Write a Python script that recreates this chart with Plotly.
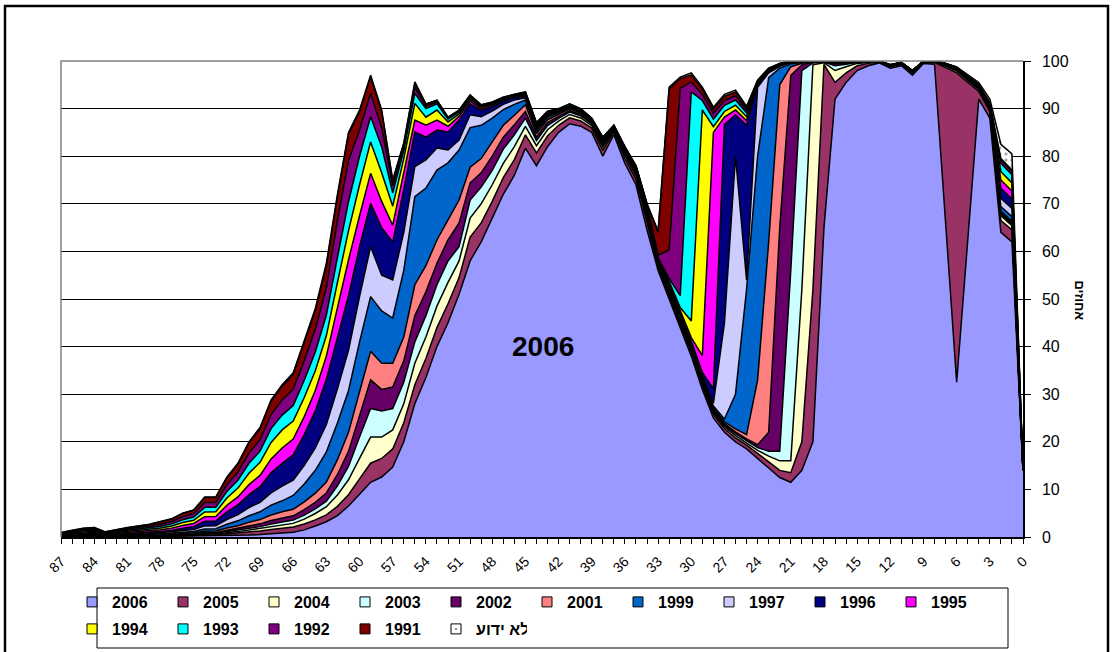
import plotly.graph_objects as go

# categories (shown right-to-left from 87 down to 0)
categories = list(range(87, -1, -1))

# values, one value per category (87 ... 0)
s2006 = [0.03, 0.04, 0.05, 0.06, 0.03, 0.05, 0.06, 0.07, 0.08, 0.1,
 0.11, 0.15, 0.2, 0.2, 0.25, 0.3, 0.35, 0.4, 0.5, 0.6, 0.8, 1.0, 1.5, 2.3, 3.2, 4.5, 6.5, 9, 11.5, 12.6, 14.7, 20,
 28, 33.5, 40, 45, 51, 58, 62, 67, 72, 76, 81.7,
 78, 82, 85, 86.8, 86.3, 85, 80, 84.5, 78.5, 74, 64.5,
 56, 50, 44, 38, 31, 25, 22, 20, 18.5, 16.5, 14.5, 12.5, 11.5, 14, 20, 65,
 92, 95.5, 98, 99, 99.6, 98.5, 99, 97, 99.5, 99.3, 66, 32.5, 62, 92, 88, 64, 62, 14]

s2005 = [0.02, 0.03, 0.04, 0.04, 0.02, 0.03, 0.04, 0.05, 0.05, 0.06,
 0.08, 0.1, 0.12, 0.21, 0.2, 0.35, 0.47, 0.64, 0.76, 0.98, 1.1, 1.1, 1.23, 1.3, 1.44, 1.94, 2.38, 3.2, 4, 3.9, 3.8, 4,
 4, 4, 4, 4, 3.5, 5, 4, 3.5, 3.5, 3.3, 2.8,
 2.7, 2.25, 1.5, 1.26, 1.1, 0.9, 1.2, 0.6, 1.05, 1.2, 1.65,
 0.6, 0.8, 0.8, 0.8, 0.8, 0.8, 0.8, 0.8, 0.8, 1.0, 1.3, 1.5, 2.0, 6, 32, 34.3,
 3.5, 2.0, 1.0, 0.5, 0.2, 0.3, 0.3, 0.4, 0.25, 0.35, 32.6, 65, 33.5, 1.6, 1.4, 2.5, 2.5, 0.01]

s2004 = [0.02, 0.03, 0.04, 0.04, 0.02, 0.03, 0.04, 0.05, 0.05, 0.06,
 0.08, 0.1, 0.11, 0.17, 0.17, 0.25, 0.31, 0.4, 0.46, 0.58, 0.6, 0.76, 1.03, 1.34, 1.73, 2.38, 3.15, 4.3, 5.5, 4.5, 4.0, 4,
 4.5, 4.5, 4.5, 4.5, 3.5, 4, 4, 3.5, 3, 2.7, 1.75,
 1.5, 1.3, 0.85, 0.71, 0.63, 0.5, 0.68, 0.34, 0.6, 0.68, 0.94,
 0.35, 0.4, 0.4, 0.4, 0.4, 0.4, 0.4, 0.5, 0.5, 0.7, 1.2, 2.0, 2.5, 32, 47.2, 0.35,
 2.5, 1.3, 0.5, 0.25, 0.1, 0.15, 0.15, 0.2, 0.1, 0.12, 0.3, 0.4, 0.45, 0.35, 0.3, 1.0, 0.9, 0.01]

s2003 = [0.02, 0.03, 0.04, 0.04, 0.02, 0.03, 0.04, 0.05, 0.05, 0.06,
 0.08, 0.1, 0.11, 0.17, 0.17, 0.25, 0.31, 0.4, 0.46, 0.58, 0.7, 0.69, 0.82, 0.96, 1.15, 1.94, 2.8, 4.5, 6, 5.5, 4.5, 4.5,
 4.5, 4.5, 4.5, 4.5, 3, 3.8, 3.5, 3, 3, 2.5, 1.75,
 1.1, 0.9, 0.6, 0.5, 0.44, 0.36, 0.48, 0.24, 0.42, 0.48, 0.66,
 0.25, 0.3, 0.3, 0.3, 0.3, 0.3, 0.3, 0.4, 0.4, 0.6, 1.0, 2.0, 40, 46, 0.4, 0.15,
 1.0, 0.5, 0.2, 0.1, 0.04, 0.08, 0.08, 0.12, 0.05, 0.06, 0.15, 0.2, 0.25, 0.2, 0.1, 0.3, 0.3, 0.01]

s2002 = [0.02, 0.03, 0.04, 0.04, 0.02, 0.03, 0.04, 0.05, 0.05, 0.06,
 0.08, 0.1, 0.12, 0.18, 0.18, 0.29, 0.37, 0.5, 0.58, 0.72, 0.8, 0.9, 1.15, 1.39, 1.73, 2.38, 3.15, 4.5, 6, 4.5, 4.5, 4.5,
 5.5, 5, 4.5, 4.4, 5, 3.6, 3, 3, 2.5, 2.1, 1.4,
 0.7, 0.6, 0.4, 0.34, 0.3, 0.24, 0.32, 0.16, 0.28, 0.32, 0.44,
 0.2, 0.3, 0.3, 0.3, 0.3, 0.3, 0.3, 0.4, 0.4, 0.6, 4.0, 47, 41, 1.2, 0.15, 0.06,
 0.4, 0.3, 0.1, 0.05, 0.02, 0.04, 0.04, 0.06, 0.03, 0.04, 0.1, 0.12, 0.15, 0.12, 0.1, 0.3, 0.3, 0.01]

s2001 = [0.03, 0.04, 0.05, 0.06, 0.03, 0.05, 0.06, 0.07, 0.08, 0.1,
 0.11, 0.16, 0.18, 0.28, 0.28, 0.44, 0.57, 0.76, 0.9, 1.15, 1.3, 1.38, 1.64, 1.92, 2.3, 3.1, 4.0, 5.0, 6, 5.5, 5.0, 5,
 6.5, 5.5, 4.9, 4.2, 4.8, 3.3, 3, 3, 2.5, 2.0, 1.4,
 0.7, 0.6, 0.4, 0.34, 0.3, 0.24, 0.32, 0.16, 0.28, 0.32, 0.44,
 0.2, 0.3, 0.3, 0.3, 0.3, 0.3, 0.4, 0.6, 0.9, 13.6, 40, 30, 1.8, 0.3, 0.07, 0.04,
 0.2, 0.15, 0.06, 0.03, 0.01, 0.03, 0.03, 0.05, 0.02, 0.03, 0.08, 0.1, 0.12, 0.1, 0.1, 0.3, 0.3, 0.01]

s1999 = [0.05, 0.07, 0.09, 0.1, 0.06, 0.08, 0.1, 0.12, 0.14, 0.16,
 0.19, 0.26, 0.3, 0.48, 0.48, 0.79, 1.02, 1.36, 1.63, 2.1, 2.3, 2.9, 3.77, 4.8, 6.33, 7.7, 8.76, 10.5, 11.5, 11, 9.5, 14,
 18.5, 16.3, 14.7, 12, 10.5, 8.3, 7, 5, 3.3, 2.3, 1.0,
 0.6, 0.5, 0.35, 0.29, 0.26, 0.21, 0.28, 0.14, 0.25, 0.28, 0.39,
 0.2, 0.3, 0.3, 0.3, 0.3, 0.4, 0.6, 7.3, 30.5, 47, 34.5, 3.5, 0.6, 0.2, 0.05, 0.03,
 0.12, 0.07, 0.04, 0.02, 0.01, 0.03, 0.03, 0.05, 0.02, 0.03, 0.08, 0.1, 0.12, 0.12, 0.15, 1.0, 1.0, 0.01]

s1997 = [0.06, 0.1, 0.13, 0.14, 0.08, 0.1, 0.14, 0.16, 0.19, 0.22,
 0.27, 0.36, 0.42, 0.64, 0.64, 1.01, 1.29, 1.7, 2.0, 2.56, 3.1, 3.21, 3.9, 4.7, 5.75, 7.2, 8.5, 9.5, 10.5, 7.5, 8.0, 8,
 6.3, 5.9, 4.6, 2.7, 2.1, 2.7, 1.8, 1.5, 1.1, 0.9, 0.5,
 0.4, 0.3, 0.2, 0.17, 0.15, 0.12, 0.16, 0.08, 0.14, 0.16, 0.22,
 0.15, 0.3, 0.3, 0.3, 0.4, 0.6, 20.2, 50, 2, 14.5, 1.0, 0.4, 0.2, 0.08, 0.03, 0.02,
 0.08, 0.05, 0.02, 0.01, 0.005, 0.02, 0.02, 0.03, 0.01, 0.02, 0.05, 0.06, 0.1, 0.12, 0.2, 1.75, 1.7, 0.01]

s1996 = [0.09, 0.14, 0.18, 0.2, 0.11, 0.15, 0.2, 0.23, 0.27, 0.32,
 0.38, 0.52, 0.62, 0.97, 0.97, 1.6, 2.06, 2.76, 3.29, 4.23, 4.8, 5.31, 6.48, 7.78, 9.49, 10.8, 11.48, 10.5, 9.1, 10, 8.0, 9,
 7.3, 4.8, 3.8, 3.8, 4.2, 2.3, 1.3, 0.9, 0.7, 0.55, 0.4,
 0.3, 0.2, 0.15, 0.13, 0.11, 0.09, 0.12, 0.06, 0.1, 0.12, 0.17,
 0.15, 0.3, 0.3, 0.4, 0.8, 3.0, 41.7, 8.7, 32.5, 0.5, 0.3, 0.15, 0.1, 0.06, 0.02, 0.01,
 0.06, 0.03, 0.02, 0.01, 0.005, 0.02, 0.02, 0.03, 0.01, 0.02, 0.05, 0.06, 0.08, 0.12, 0.25, 2.1, 2.0, 0.01]

s1995 = [0.11, 0.17, 0.22, 0.24, 0.13, 0.18, 0.24, 0.28, 0.32, 0.38,
 0.46, 0.59, 0.66, 0.96, 0.95, 1.39, 1.66, 2.08, 2.35, 2.91, 3.2, 3.31, 3.77, 4.27, 4.89, 6.26, 7.48, 6.5, 6.3, 5.5, 3.5, 3.5,
 2.5, 2.5, 2.1, 1.2, 0.8, 0.6, 0.4, 0.3, 0.25, 0.2, 0.2,
 0.2, 0.15, 0.1, 0.08, 0.07, 0.06, 0.08, 0.04, 0.07, 0.08, 0.11,
 0.15, 0.3, 0.4, 0.8, 3.5, 53.9, 1.5, 1.0, 1.0, 0.3, 0.2, 0.1, 0.06, 0.04, 0.02, 0.01,
 0.04, 0.03, 0.02, 0.01, 0.003, 0.01, 0.01, 0.02, 0.005, 0.01, 0.03, 0.04, 0.06, 0.1, 0.2, 1.75, 1.7, 0.01]

s1994 = [0.11, 0.17, 0.22, 0.24, 0.13, 0.18, 0.24, 0.28, 0.32, 0.38,
 0.46, 0.6, 0.68, 1.01, 1.0, 1.51, 1.86, 2.4, 2.76, 3.46, 3.8, 3.8, 4.02, 4.18, 4.31, 5.26, 6.12, 6.5, 6.6, 6, 4.0, 3,
 3.5, 1.7, 2.1, 0.9, 0.5, 0.4, 0.3, 0.25, 0.2, 0.15, 0.2,
 0.2, 0.15, 0.1, 0.08, 0.07, 0.06, 0.08, 0.04, 0.07, 0.08, 0.11,
 0.2, 0.4, 0.8, 3.5, 51.6, 1.2, 1.2, 1.0, 0.8, 0.2, 0.15, 0.1, 0.06, 0.04, 0.02, 0.01,
 0.03, 0.02, 0.01, 0.005, 0.002, 0.01, 0.01, 0.01, 0.005, 0.01, 0.02, 0.03, 0.05, 0.1, 0.2, 1.75, 1.7, 0.01]

s1993 = [0.11, 0.17, 0.22, 0.24, 0.13, 0.18, 0.24, 0.28, 0.32, 0.38,
 0.46, 0.59, 0.66, 0.96, 0.95, 1.39, 1.66, 2.08, 2.35, 2.91, 3.1, 3.24, 3.61, 3.94, 4.31, 5.26, 6.12, 6.0, 5.3, 5.5, 2.8, 1.7,
 2.1, 1.8, 1.3, 0.6, 0.4, 0.35, 0.2, 0.15, 0.15, 0.12, 0.15,
 0.2, 0.15, 0.1, 0.08, 0.07, 0.06, 0.08, 0.04, 0.07, 0.08, 0.11,
 0.25, 0.6, 2.5, 48.1, 2.0, 1.6, 1.3, 1.1, 0.8, 0.2, 0.15, 0.1, 0.06, 0.03, 0.01, 0.01,
 0.02, 0.02, 0.01, 0.005, 0.002, 0.005, 0.005, 0.01, 0, 0.005, 0.02, 0.03, 0.04, 0.1, 0.2, 1.75, 1.7, 0.01]

s1992 = [0.12, 0.18, 0.23, 0.26, 0.14, 0.2, 0.26, 0.3, 0.35, 0.42,
 0.49, 0.64, 0.72, 1.01, 1.0, 1.42, 1.7, 2.14, 2.39, 2.94, 3.2, 3.45, 4.1, 4.8, 5.75, 7.78, 8.64, 5.5, 4.9, 4, 1.5, 0.8,
 1.2, 0.5, 0.4, 0.2, 0.2, 0.25, 0.15, 0.15, 0.1, 0.08, 0.1,
 0.2, 0.15, 0.1, 0.08, 0.07, 0.06, 0.08, 0.04, 0.07, 0.08, 0.11,
 0.5, 6.0, 43.6, 2.1, 1.3, 1.2, 1.0, 0.9, 0.6, 0.1, 0.1, 0.07, 0.05, 0.02, 0.01, 0.005,
 0.02, 0.01, 0.01, 0.005, 0.001, 0.005, 0.005, 0.01, 0, 0.005, 0.01, 0.02, 0.03, 0.05, 0.08, 0.7, 0.7, 0.01]

s1991 = [0.12, 0.2, 0.25, 0.28, 0.15, 0.21, 0.28, 0.32, 0.38, 0.45,
 0.53, 0.68, 0.74, 1.08, 1.08, 1.47, 1.7, 2.18, 2.35, 2.79, 2.9, 3.1, 3.57, 3.84, 4.6, 5.0, 5.5, 3.9, 3.5, 3.4, 1.0, 0.6,
 0.9, 0.4, 0.3, 0.15, 0.15, 0.2, 0.1, 0.1, 0.07, 0.06, 0.1,
 0.2, 0.15, 0.1, 0.08, 0.07, 0.06, 0.08, 0.04, 0.07, 0.08, 0.11,
 4.8, 33.8, 2.0, 1.5, 1.1, 0.9, 0.9, 0.8, 0.5, 0.1, 0.05, 0.05, 0.04, 0.02, 0.01, 0.005,
 0.02, 0.01, 0.005, 0.003, 0.001, 0.005, 0.005, 0.005, 0, 0, 0.005, 0.02, 0.02, 0.02, 0.02, 0.3, 0.3, 0.01]

s_unknown = [0.01, 0.01, 0.02, 0.02, 0.01, 0.01, 0.02, 0.02, 0.03, 0.03,
 0.04, 0.05, 0.06, 0.08, 0.08, 0.13, 0.17, 0.2, 0.23, 0.29, 0.3, 0.35, 0.41, 0.48, 0.52, 0.5, 0.42, 0.3, 0.3, 0.3, 0.2, 0.2,
 0.3, 0.1, 0.1, 0.05, 0.05, 0.1, 0.05, 0.05, 0.03, 0.04, 0.05,
 0.1, 0.08, 0.05, 0.04, 0.04, 0.03, 0.04, 0.02, 0.03, 0.04, 0.05,
 0.3, 0.4, 0.3, 0.4, 0.4, 0.4, 0.4, 0.4, 0.3, 0.1, 0.05, 0.03, 0.03, 0.01, 0.01, 0,
 0.01, 0.01, 0.005, 0.002, 0.001, 0.005, 0.005, 0.005, 0, 0, 0.005, 0.1, 0.2, 0.4, 0.7, 3.0, 3.4, 0.05]

series_names = ["2006", "2005", "2004", "2003", "2002", "2001", "1999", "1997",
                "1996", "1995", "1994", "1993", "1992", "1991", "לא ידוע"]
series_values = [s2006, s2005, s2004, s2003, s2002, s2001, s1999, s1997,
                 s1996, s1995, s1994, s1993, s1992, s1991, s_unknown]
series_colors = ["#9999FF", "#993366", "#FFFFCC", "#CCFFFF", "#660066", "#FF8080",
                 "#0066CC", "#CCCCFF", "#000080", "#FF00FF", "#FFFF00", "#00FFFF",
                 "#800080", "#800000", "#FFFFFF"]

for nm, vals in zip(series_names, series_values):
    if len(vals) != len(categories):
        raise ValueError(f"{nm}: {len(vals)} values")

FONT = "Liberation Sans, Arial, sans-serif"

# pixel helpers for the 1112x652 canvas (plot area 61..1023 x 61..537)
def px_x(p):
    return (p - 61) / 962.0

def px_y(p):
    return (537 - p) / 476.0

fig = go.Figure()
for i, (nm, vals, col) in enumerate(zip(series_names, series_values, series_colors)):
    kw = {}
    if nm == "לא ידוע":
        kw["fillpattern"] = dict(shape=".", bgcolor="white", fgcolor="#606060",
                                 size=6, solidity=0.25)
    fig.add_trace(go.Scatter(
        x=categories, y=vals, name=nm, mode="lines", stackgroup="one",
        line=dict(color="black", width=1.5, shape="linear"),
        fillcolor=col, showlegend=False, legendgroup=nm, **kw))

# legend entries as small bordered squares (like the original legend keys)
for i, (nm, col) in enumerate(zip(series_names, series_colors)):
    is_unknown = nm == "לא ידוע"
    fig.add_trace(go.Scatter(
        x=[None], y=[None], name=nm, mode="markers", legendgroup=nm,
        marker=dict(symbol="square-dot" if is_unknown else "square", size=10,
                    color=col, line=dict(color="black", width=1)),
        legend="legend" if i < 10 else "legend2", hoverinfo="skip"))

leg_common = dict(orientation="h", xanchor="left", yanchor="middle",
                  borderwidth=0, bgcolor="rgba(0,0,0,0)",
                  font=dict(family=FONT, size=16, weight="bold"),
                  entrywidth=46, entrywidthmode="pixels", traceorder="normal",
                  itemwidth=30)

fig.update_layout(
    width=1112, height=652,
    margin=dict(l=61, r=89, t=61, b=115, autoexpand=False),
    paper_bgcolor="white", plot_bgcolor="white",
    font=dict(family=FONT, color="black", size=13),
    legend=dict(x=px_x(72), y=px_y(602), **leg_common),
    legend2=dict(x=px_x(72), y=px_y(629), **leg_common),
)

fig.update_xaxes(
    range=[87, 0], tickmode="linear", tick0=0, dtick=3,
    tickangle=-45, ticks="outside", ticklen=5, tickcolor="black",
    minor=dict(dtick=1, tick0=0, ticks="outside", ticklen=5, tickcolor="black"),
    showline=True, linecolor="black", linewidth=1.5,
    showgrid=False, zeroline=False,
    tickfont=dict(family=FONT, size=14), ticklabelstandoff=4,
)
fig.update_yaxes(
    range=[0, 100], side="right", tickmode="linear", tick0=0, dtick=10,
    ticks="outside", ticklen=6, tickcolor="black",
    showline=True, linecolor="black", linewidth=1.5,
    showgrid=True, gridcolor="black", gridwidth=1, zeroline=False,
    tickfont=dict(family=FONT, size=16), ticklabelstandoff=8,
)

fig.add_annotation(x=43.4, y=40, xref="x", yref="y", text="2006", showarrow=False,
                   font=dict(family=FONT, size=28, weight="bold", color="black"))
fig.add_annotation(x=px_x(1089), y=px_y(300), xref="paper", yref="paper", text="אחוזים",
                   showarrow=False, textangle=90,
                   font=dict(family=FONT, size=13, weight="bold", color="black"))

# plot-area border (top & left), legend box and outer chart frame
fig.add_shape(type="path", xref="paper", yref="paper",
              path="M 0 0 L 0 1 L 1 1", line=dict(color="#808080", width=1.5),
              layer="above")
fig.add_shape(type="rect", xref="paper", yref="paper",
              x0=px_x(97), x1=px_x(1008), y0=px_y(648), y1=px_y(588),
              line=dict(color="black", width=1), fillcolor="rgba(0,0,0,0)",
              layer="above")
fig.add_shape(type="rect", xref="paper", yref="paper",
              x0=px_x(5), x1=px_x(1108), y0=px_y(690), y1=px_y(6),
              line=dict(color="black", width=2.5), fillcolor="rgba(0,0,0,0)",
              layer="above")

fig.write_html("out.html", config={"displayModeBar": False},
               post_script="document.body.style.margin='0';document.body.style.overflow='hidden';")
